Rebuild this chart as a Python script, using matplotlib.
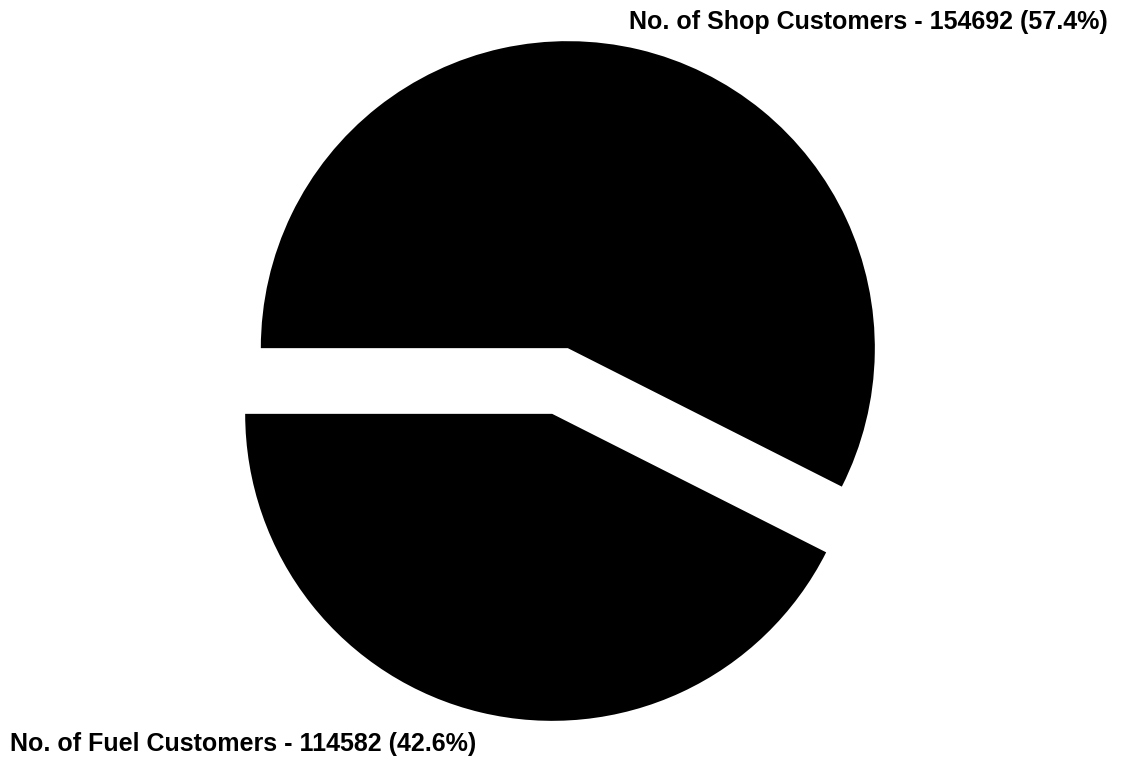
import matplotlib
matplotlib.use("Agg")
import matplotlib.pyplot as plt

# data
labels = ["No. of Shop Customers", "No. of Fuel Customers"]
values = [154692, 114582]
colors = ["black", "black"]

plt.rcParams['font.family'] = ['Liberation Sans', 'DejaVu Sans']

fig = plt.figure(figsize=(11.31, 7.61), dpi=100)
ax = fig.add_axes([0, 0, 1, 1])

# pie radius in pixels and centre position
R = 307.0
cx, cy = 560.0, 380.0

total = sum(values)
ax.pie(values, colors=colors, startangle=180, counterclock=False,
       explode=[0.11, 0.11], wedgeprops=dict(linewidth=0), frame=True)
ax.set_xlim(-cx / R, (1131 - cx) / R)
ax.set_ylim(-cy / R, (761 - cy) / R)
ax.set_aspect('equal')
ax.axis('off')

txt = [f"{l} - {v} ({v / total * 100:.1f}%)" for l, v in zip(labels, values)]
fig.text(1108 / 1131, 1 - 29 / 761, txt[0], ha='right', va='baseline',
         fontsize=18, fontweight='bold')
fig.text(10 / 1131, 1 - 751 / 761, txt[1], ha='left', va='baseline',
         fontsize=18, fontweight='bold')

fig.savefig("out.png", dpi=100, facecolor='white')
